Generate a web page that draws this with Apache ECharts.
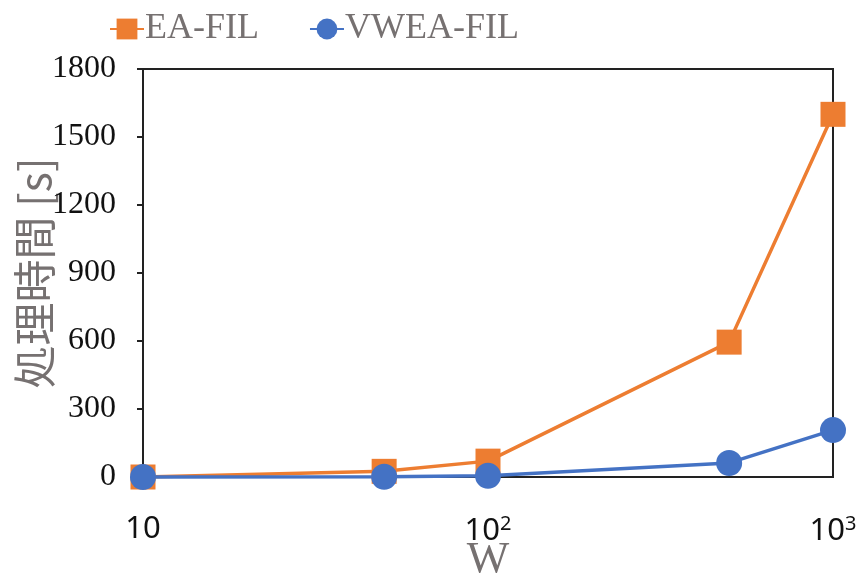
<!DOCTYPE html>
<html><head><meta charset="utf-8">
<script src="https://cdn.jsdelivr.net/npm/echarts@6/dist/echarts.min.js"></script>
<style>html,body{margin:0;padding:0;background:#fff}#c{width:863px;height:577px}</style>
</head><body><div id="c"></div>
<script>
const wValues = [10, 50, 100, 500, 1000];
const eaFil = [0, 25, 70, 595, 1600];
const vweaFil = [0, 1, 5, 62, 207];
const yTicks = [0, 300, 600, 900, 1200, 1500, 1800];
const seriesNames = ['EA-FIL', 'VWEA-FIL'];

const chart = echarts.init(document.getElementById('c'));
const gray = '#767171';
chart.setOption({
  animation: false,
  legend: {
    top: 6, left: 104, itemGap: 50, itemWidth: 34, itemHeight: 26,
    textStyle: { fontFamily: 'Liberation Serif', fontSize: 36, color: gray, padding: [0,0,0,-4] },
    data: seriesNames
  },
  grid: { left: 143, right: 30, top: 69, bottom: 100, show: true, borderColor: '#222', borderWidth: 2,
    containLabel: false, outerBoundsMode: 'none' },
  xAxis: {
    type: 'log', logBase: 10, min: 10, max: 1000,
    name: 'W', nameLocation: 'middle', nameGap: 61, nameMoveOverlap: false,
    nameTextStyle: { fontFamily: 'Liberation Serif', fontSize: 45, color: gray },
    axisLine: { lineStyle: { color: '#222', width: 2 } },
    axisTick: { show: false }, splitLine: { show: false }, minorTick: { show: false },
    axisLabel: {
      margin: 37, color: '#111', fontFamily: 'Noto Sans', fontSize: 31,
      formatter: function (v) {
        const e = Math.round(Math.log10(v));
        return e === 1 ? '10' : '10{sup|' + e + '}';
      },
      rich: { sup: { fontFamily: 'Noto Sans', fontSize: 20, color: '#111', verticalAlign: 'top', padding: [0,0,14,0] } }
    }
  },
  yAxis: {
    type: 'value', min: 0, max: 1800, interval: 300,
    name: '処理時間 [s]', nameLocation: 'middle', nameGap: 87, nameRotate: 90, nameMoveOverlap: false,
    nameTextStyle: { fontFamily: 'Noto Sans CJK JP', fontSize: 43, color: gray },
    axisLine: { show: true, lineStyle: { color: '#222', width: 2 } },
    axisTick: { show: true, inside: false, length: 6, lineStyle: { color: '#222', width: 2 } },
    splitLine: { show: false },
    axisLabel: { margin: 27, color: '#111', fontFamily: 'Liberation Serif', fontSize: 32,
      formatter: function (v) { return yTicks.indexOf(v) >= 0 ? String(v) : ''; } }
  },
  series: [
    { name: seriesNames[0], type: 'line', clip: false, symbol: 'rect', symbolSize: 25,
      itemStyle: { color: '#ED7D31' }, lineStyle: { color: '#ED7D31', width: 3.5 },
      data: wValues.map((w, i) => [w, eaFil[i]]) },
    { name: seriesNames[1], type: 'line', clip: false, symbol: 'circle', symbolSize: 26,
      itemStyle: { color: '#4472C4' }, lineStyle: { color: '#4472C4', width: 3.5 },
      data: wValues.map((w, i) => [w, vweaFil[i]]) }
  ]
});
</script></body></html>
